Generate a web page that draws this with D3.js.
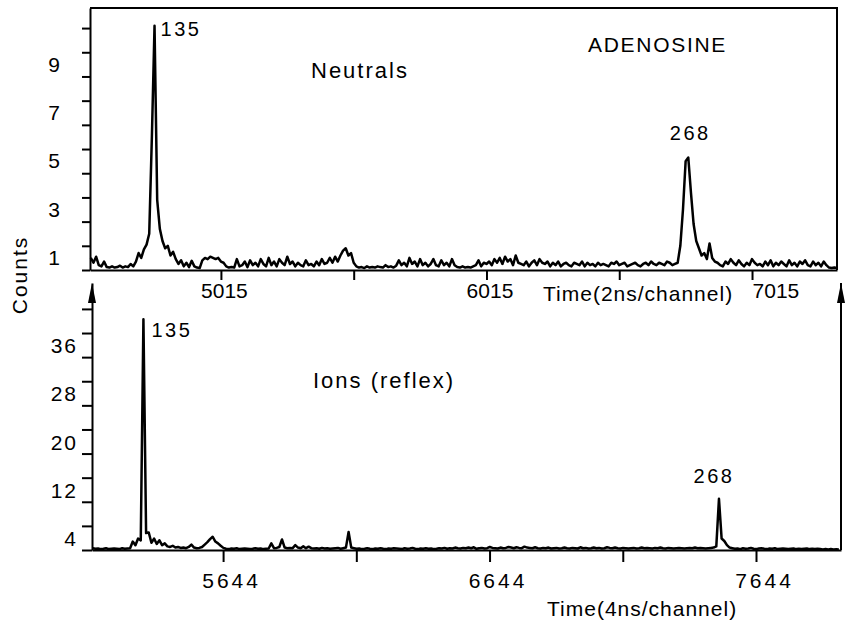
<!DOCTYPE html>
<html>
<head>
<meta charset="utf-8">
<script src="https://cdn.jsdelivr.net/npm/d3@7"></script>
<style>
body { margin: 0; background: #fff; }
svg text { font-family: "Liberation Sans", Arial, sans-serif; fill: #000; }
</style>
</head>
<body>
<div id="chart"></div>
<script>
//Data - neutrals spectrum (2ns/channel), one count every 10 channels
var neutralStart = 4525;
var neutralStep = 10;
var neutralCounts = [
    0.5, 0.3, 0.55, 0.2, 0.15, 0.35, 0.12, 0.1, 0.15, 0.1,
    0.12, 0.18, 0.1, 0.15, 0.12, 0.25, 0.15, 0.35, 0.7, 0.5,
    0.85, 1.05, 1.5, 5.5, 10.1, 2.9, 1.7, 1.2, 0.9, 1.0,
    0.6, 0.75, 0.45, 0.25, 0.4, 0.15, 0.3, 0.12, 0.38, 0.15,
    0.1, 0.08, 0.4, 0.5, 0.45, 0.55, 0.5, 0.45, 0.5, 0.35,
    0.3, 0.15, 0.1, 0.12, 0.1, 0.45, 0.15, 0.2, 0.35, 0.12,
    0.4, 0.2, 0.3, 0.15, 0.45, 0.25, 0.15, 0.5, 0.2, 0.35,
    0.15, 0.45, 0.3, 0.2, 0.55, 0.25, 0.35, 0.15, 0.3, 0.2,
    0.15, 0.4, 0.2, 0.25, 0.15, 0.35, 0.2, 0.45, 0.25, 0.3,
    0.5, 0.3, 0.55, 0.35, 0.6, 0.8, 0.9, 0.6, 0.7, 0.3,
    0.15, 0.1, 0.12, 0.08, 0.15, 0.1, 0.12, 0.1, 0.15, 0.12,
    0.1, 0.2, 0.12, 0.15, 0.1, 0.18, 0.4, 0.2, 0.3, 0.15,
    0.5, 0.25, 0.35, 0.15, 0.45, 0.2, 0.3, 0.15, 0.25, 0.45,
    0.2, 0.15, 0.4, 0.2, 0.3, 0.15, 0.45, 0.2, 0.12, 0.1,
    0.15, 0.1, 0.12, 0.1, 0.15, 0.2, 0.4, 0.15, 0.3, 0.25,
    0.35, 0.2, 0.45, 0.3, 0.5, 0.25, 0.55, 0.35, 0.45, 0.2,
    0.6, 0.3, 0.25, 0.2, 0.35, 0.15, 0.3, 0.4, 0.2, 0.45,
    0.3, 0.25, 0.35, 0.15, 0.3, 0.2, 0.35, 0.15, 0.25, 0.3,
    0.2, 0.15, 0.3, 0.25, 0.2, 0.35, 0.15, 0.3, 0.2, 0.25,
    0.15, 0.3, 0.2, 0.25, 0.2, 0.15, 0.3, 0.25, 0.35, 0.2,
    0.25, 0.3, 0.15, 0.2, 0.25, 0.3, 0.2, 0.15, 0.25, 0.3,
    0.2, 0.35, 0.25, 0.2, 0.3, 0.25, 0.2, 0.35, 0.3, 0.2,
    0.25, 0.3, 1.0, 2.5, 4.5, 4.65, 3.2, 1.9, 1.2, 0.9,
    0.6, 0.7, 0.45, 1.1, 0.5, 0.35, 0.3, 0.2, 0.15, 0.35,
    0.25, 0.45, 0.3, 0.2, 0.4, 0.25, 0.15, 0.3, 0.2, 0.45,
    0.3, 0.2, 0.25, 0.15, 0.35, 0.2, 0.4, 0.15, 0.3, 0.2,
    0.35, 0.25, 0.15, 0.4, 0.2, 0.3, 0.15, 0.35, 0.25, 0.4,
    0.2, 0.15, 0.35, 0.2, 0.3, 0.15, 0.35, 0.2, 0.1, 0.08,
    0.1, 0.08
];

//Data - ions (reflex) spectrum (4ns/channel)
var ionStart = 5155;
var ionStep = 10;
var ionCounts = [
    0.3, 0.2, 0.25, 0.15, 0.2, 0.3, 0.15, 0.2, 0.25, 0.2,
    0.15, 0.3, 0.2, 0.25, 0.3, 1.4, 0.8, 1.9, 1.6, 38.3,
    2.8, 2.9, 1.2, 1.9, 1.0, 1.6, 0.8, 1.1, 0.6, 0.5,
    0.7, 0.4, 0.5, 0.35, 0.4, 0.3, 0.5, 0.9, 0.4, 0.3,
    0.35, 0.5, 0.9, 1.3, 1.8, 2.2, 1.4, 1.1, 0.7, 0.35,
    0.2, 0.15, 0.25, 0.2, 0.3, 0.15, 0.2, 0.25, 0.2, 0.15,
    0.2, 0.3, 0.2, 0.25, 0.15, 0.2, 0.25, 1.1, 0.3, 0.35,
    0.5, 1.75, 0.4, 0.3, 0.35, 0.3, 0.8, 0.4, 0.3, 0.6,
    0.3, 0.55, 0.3, 0.25, 0.3, 0.2, 0.35, 0.25, 0.3, 0.2,
    0.25, 0.3, 0.35, 0.2, 0.3, 0.4, 3.0, 0.4, 0.3, 0.2,
    0.25, 0.15, 0.2, 0.3, 0.2, 0.15, 0.25, 0.2, 0.3, 0.2,
    0.15, 0.25, 0.2, 0.3, 0.25, 0.2, 0.15, 0.3, 0.2, 0.25,
    0.35, 0.2, 0.15, 0.25, 0.2, 0.3, 0.2, 0.25, 0.15, 0.2,
    0.3, 0.25, 0.35, 0.2, 0.3, 0.25, 0.4, 0.3, 0.25, 0.35,
    0.3, 0.4, 0.3, 0.45, 0.2, 0.3, 0.35, 0.25, 0.3, 0.5,
    0.35, 0.3, 0.25, 0.4, 0.3, 0.35, 0.5, 0.4, 0.3, 0.45,
    0.35, 0.3, 0.55, 0.4, 0.35, 0.3, 0.45, 0.3, 0.25, 0.35,
    0.3, 0.4, 0.25, 0.3, 0.35, 0.25, 0.3, 0.4, 0.3, 0.25,
    0.35, 0.3, 0.25, 0.45, 0.3, 0.35, 0.25, 0.3, 0.4, 0.3,
    0.35, 0.25, 0.3, 0.45, 0.35, 0.3, 0.4, 0.3, 0.25, 0.35,
    0.3, 0.25, 0.3, 0.35, 0.25, 0.3, 0.4, 0.3, 0.35, 0.3,
    0.25, 0.35, 0.3, 0.4, 0.3, 0.25, 0.35, 0.3, 0.25, 0.3,
    0.35, 0.3, 0.25, 0.3, 0.35, 0.3, 0.4, 0.3, 0.35, 0.3,
    0.25, 0.3, 0.35, 0.4, 0.6, 8.5, 1.9, 1.5, 0.8, 0.4,
    0.3, 0.2, 0.25, 0.15, 0.3, 0.2, 0.25, 0.35, 0.2, 0.15,
    0.25, 0.3, 0.2, 0.15, 0.25, 0.2, 0.3, 0.15, 0.2, 0.25,
    0.2, 0.15, 0.2, 0.25, 0.15, 0.2, 0.15, 0.2, 0.25, 0.15,
    0.2, 0.15, 0.2, 0.15, 0.1, 0.15, 0.1, 0.15, 0.1, 0.12,
    0.1
];

//Ticks and labels
var neutralYTicks = [0, 1, 2, 3, 4, 5, 6, 7, 8, 9, 10];
var neutralYLabels = [1, 3, 5, 7, 9];
var ionYTicks = [0, 4, 8, 12, 16, 20, 24, 28, 32, 36, 40];
var ionYLabels = [4, 12, 20, 28, 36];
var neutralXTicks = [5015, 5515, 6015, 6515, 7015];
var neutralXLabels = [5015, 6015, 7015];
var ionXTicks = [5644, 6144, 6644, 7144, 7644];
var ionXLabels = [5644, 6644, 7644];

//Peak annotations (mass, channel, count)
var neutralPeaks = [
    {mass: "135", ch: 4765, count: 10.1},
    {mass: "268", ch: 6775, count: 4.65}
];
var ionPeaks = [
    {mass: "135", ch: 5345, count: 38.3},
    {mass: "268", ch: 7505, count: 8.5}
];

function chart() {
    //Settings
    var width = 848;
    var height = 628;
    var font = '"Liberation Sans", Arial, sans-serif';

    var svg = d3.select("#chart").append("svg")
        .attr("width", width)
        .attr("height", height);

    var xTop = d3.scaleLinear().domain([4522, 7335]).range([90, 837]);
    var yTop = d3.scaleLinear().domain([0, 10.83]).range([270, 8]);
    var xBot = d3.scaleLinear().domain([5152, 7963]).range([92, 841]);
    var yBot = d3.scaleLinear().domain([0, 44.3]).range([550, 283]);

    function series(start, step, counts) {
        return counts.map(function(c, i) { return {ch: start + i * step, count: c}; });
    }

    function inkAxis(g, size, spacing) {
        g.attr("font-family", font).attr("font-size", size);
        g.selectAll("path, line").attr("stroke", "#000").attr("stroke-width", 2);
        g.selectAll("text").attr("fill", "#000").style("letter-spacing", spacing + "px");
    }

    //Neutrals panel
    svg.append("g")
        .attr("transform", "translate(90,0)")
        .call(d3.axisLeft(yTop)
            .tickValues(neutralYTicks)
            .tickSize(8)
            .tickSizeOuter(0)
            .tickPadding(22)
            .tickFormat(function(d) { return neutralYLabels.indexOf(d) >= 0 ? d : ""; }))
        .call(inkAxis, 21, 0)
        .call(function(g) { g.selectAll("text").attr("y", 12); });

    var lastTop = neutralXLabels[neutralXLabels.length - 1];
    svg.append("g")
        .attr("transform", "translate(0,270)")
        .call(d3.axisBottom(xTop)
            .tickValues(neutralXTicks)
            .tickSize(10)
            .tickSizeOuter(0)
            .tickFormat(function(d) { return neutralXLabels.indexOf(d) >= 0 ? d : ""; }))
        .call(inkAxis, 21, 0)
        .call(function(g) {
            g.selectAll("text").attr("y", 28).attr("dy", 0)
                .attr("text-anchor", function(d) { return d === lastTop ? "start" : "middle"; })
                .attr("dx", function(d) { return d === lastTop ? 0 : 3; });
        });

    //box top and right side
    svg.append("path")
        .attr("d", "M" + xTop.range()[0] + "," + yTop.range()[1] + "H" + xTop.range()[1] + "V" + yTop.range()[0])
        .attr("fill", "none")
        .attr("stroke", "#000")
        .attr("stroke-width", 2);

    var lineTop = d3.line()
        .x(function(d) { return xTop(d.ch); })
        .y(function(d) { return yTop(d.count); });

    svg.append("path")
        .datum(series(neutralStart, neutralStep, neutralCounts))
        .attr("d", lineTop)
        .attr("fill", "none")
        .attr("stroke", "#000")
        .attr("stroke-width", 2.5)
        .attr("stroke-linejoin", "round");

    //Ions panel
    svg.append("g")
        .attr("transform", "translate(92,0)")
        .call(d3.axisLeft(yBot)
            .tickValues(ionYTicks)
            .tickSize(10)
            .tickSizeOuter(0)
            .tickPadding(4)
            .tickFormat(function(d) { return ionYLabels.indexOf(d) >= 0 ? d : ""; }))
        .call(inkAxis, 21, 2)
        .call(function(g) { g.selectAll("text").attr("y", 13); });

    svg.append("g")
        .attr("transform", "translate(0,550)")
        .call(d3.axisBottom(xBot)
            .tickValues(ionXTicks)
            .tickSize(12)
            .tickSizeOuter(0)
            .tickFormat(function(d) { return ionXLabels.indexOf(d) >= 0 ? d : ""; }))
        .call(inkAxis, 21, 3)
        .call(function(g) { g.selectAll("text").attr("y", 38).attr("dy", 0).attr("dx", 8); });

    //right side of the ions panel
    svg.append("line")
        .attr("x1", xBot.range()[1]).attr("x2", xBot.range()[1])
        .attr("y1", yBot.range()[0]).attr("y2", yBot.range()[1])
        .attr("stroke", "#000")
        .attr("stroke-width", 2);

    //arrow heads on both vertical sides
    [xBot.range()[0], xBot.range()[1]].forEach(function(x) {
        var y = yBot.range()[1];
        svg.append("path")
            .attr("d", "M" + x + "," + y + "L" + (x - 4) + "," + (y + 20) + "L" + (x + 4) + "," + (y + 20) + "Z")
            .attr("fill", "#000");
    });

    var lineBot = d3.line()
        .x(function(d) { return xBot(d.ch); })
        .y(function(d) { return yBot(d.count); });

    svg.append("path")
        .datum(series(ionStart, ionStep, ionCounts))
        .attr("d", lineBot)
        .attr("fill", "none")
        .attr("stroke", "#000")
        .attr("stroke-width", 2.5)
        .attr("stroke-linejoin", "round");

    //Peak labels
    var topOffsets = [[6, 10, "start"], [2, -18, "middle"]];
    svg.append("g").selectAll("text")
        .data(neutralPeaks)
        .enter()
        .append("text")
        .attr("x", function(d, i) { return xTop(d.ch) + topOffsets[i][0]; })
        .attr("y", function(d, i) { return yTop(d.count) + topOffsets[i][1]; })
        .attr("text-anchor", function(d, i) { return topOffsets[i][2]; })
        .attr("font-size", 20)
        .style("letter-spacing", "2.5px")
        .text(function(d) { return d.mass; });

    var botOffsets = [[8, 18, "start"], [-5, -16, "middle"]];
    svg.append("g").selectAll("text")
        .data(ionPeaks)
        .enter()
        .append("text")
        .attr("x", function(d, i) { return xBot(d.ch) + botOffsets[i][0]; })
        .attr("y", function(d, i) { return yBot(d.count) + botOffsets[i][1]; })
        .attr("text-anchor", function(d, i) { return botOffsets[i][2]; })
        .attr("font-size", 20)
        .style("letter-spacing", "2.5px")
        .text(function(d) { return d.mass; });

    //Titles and panel names
    svg.append("text").attr("x", 588).attr("y", 52)
        .attr("font-size", 21).style("letter-spacing", "1.7px")
        .text("ADENOSINE");
    svg.append("text").attr("x", 311).attr("y", 78)
        .attr("font-size", 22).style("letter-spacing", "2px")
        .text("Neutrals");
    svg.append("text").attr("x", 313).attr("y", 388)
        .attr("font-size", 22).style("letter-spacing", "2px")
        .text("Ions (reflex)");
    svg.append("text").attr("x", 543).attr("y", 301)
        .attr("font-size", 21).style("letter-spacing", "1px")
        .text("Time(2ns/channel)");
    svg.append("text").attr("x", 547).attr("y", 616)
        .attr("font-size", 21).style("letter-spacing", "1px")
        .text("Time(4ns/channel)");
    svg.append("text")
        .attr("transform", "translate(27,275) rotate(-90)")
        .attr("text-anchor", "middle")
        .attr("font-size", 21).style("letter-spacing", "2px")
        .text("Counts");
}

chart();
</script>
</body>
</html>
